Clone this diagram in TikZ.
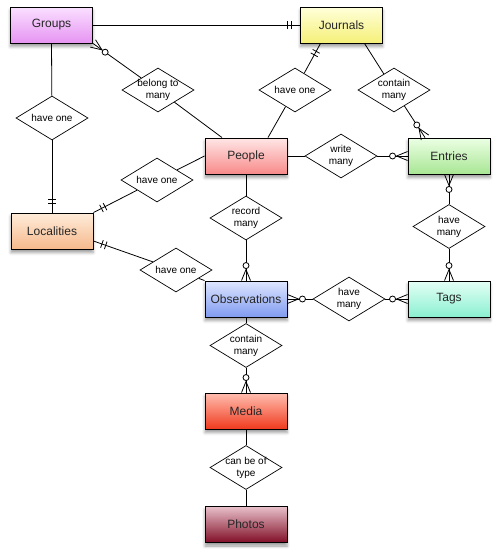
\documentclass[tikz,border=0pt]{standalone}
\usepackage{fontspec}
\setmainfont{Liberation Sans}
\usetikzlibrary{shapes.geometric,calc,shadows.blur}
\newcommand\crowfoot[2]{%
  \coordinate (cfA) at ($(#1)!11pt!(#2)$);
  \draw[conn] (cfA) -- ($(#1)!4.5pt!90:(#2)$);
  \draw[conn] (cfA) -- ($(#1)!4.5pt!-90:(#2)$);
  \draw[conn,fill=white] ($(#1)!15pt!(#2)$) circle[radius=3pt];
}
\newcommand\twobars[2]{%
  \coordinate (tbA) at ($(#1)!9pt!(#2)$);
  \coordinate (tbB) at ($(#1)!13pt!(#2)$);
  \draw[conn] ($(tbA)!4pt!90:(#2)$) -- ($(tbA)!4pt!-90:(#2)$);
  \draw[conn] ($(tbB)!4pt!90:(#2)$) -- ($(tbB)!4pt!-90:(#2)$);
}
\tikzset{
  entity/.style={draw=black, line width=0.9pt, minimum width=82pt, minimum height=36pt,
    inner sep=0pt, font=\fontsize{12}{14}\selectfont, text=black!85,
    blur shadow={shadow xshift=0pt, shadow yshift=-3.5pt, shadow blur radius=3pt}},
  relbox/.style={diamond, draw=black, line width=0.7pt, fill=white, minimum width=72pt,
    minimum height=44pt, inner sep=0pt, label={[reltext]center:#1}},
  reltext/.style={font=\fontsize{10}{12}\selectfont, align=center, inner sep=0pt, text=black},
  conn/.style={draw=black, line width=0.8pt},
}
\begin{document}
\begin{tikzpicture}[x=1pt,y=-1pt]
\useasboundingbox (0,0) rectangle (500,557);
% entities
\node[entity, top color={rgb,255:red,250;green,224;blue,255}, bottom color={rgb,255:red,230;green,148;blue,242}] (grp) at (51.5,25) {Groups};
\node[entity, top color={rgb,255:red,255;green,255;blue,218}, bottom color={rgb,255:red,245;green,240;blue,120}] (jou) at (341.5,25) {Journals};
\node[entity, top color={rgb,255:red,255;green,230;blue,230}, bottom color={rgb,255:red,248;green,138;blue,138}] (ppl) at (246,156) {People};
\node[entity, top color={rgb,255:red,236;green,255;blue,228}, bottom color={rgb,255:red,168;green,230;blue,148}] (ety) at (449,156) {Entries};
\node[entity, top color={rgb,255:red,255;green,236;blue,218}, bottom color={rgb,255:red,245;green,185;blue,140}] (loc) at (52,231) {Localities};
\node[entity, top color={rgb,255:red,222;green,230;blue,255}, bottom color={rgb,255:red,128;green,155;blue,240}] (obs) at (246,299) {Observations};
\node[entity, top color={rgb,255:red,228;green,255;blue,246}, bottom color={rgb,255:red,138;green,240;blue,208}] (tag) at (449,299) {Tags};
\node[entity, top color={rgb,255:red,255;green,190;blue,176}, bottom color={rgb,255:red,240;green,58;blue,30}] (med) at (246,411) {Media};
\node[entity, top color={rgb,255:red,232;green,192;blue,202}, bottom color={rgb,255:red,128;green,14;blue,38}] (pho) at (246,524.5) {Photos};
% relationships
\node[relbox={have one}] (hv1) at (52,118) {};
\node[relbox={belong to\\many}] (bel) at (158,90) {};
\node[relbox={have one}] (hv2) at (295,90) {};
\node[relbox={contain\\many}] (ctn) at (394,90) {};
\node[relbox={write\\many}] (wrt) at (341,156) {};
\node[relbox={have one}] (hv3) at (157,180) {};
\node[relbox={record\\many}] (rec) at (246,218) {};
\node[relbox={have one}] (hv4) at (176,270) {};
\node[relbox={have\\many}] (hm1) at (449,226.5) {};
\node[relbox={have\\many}] (hm2) at (349,299) {};
\node[relbox={contain\\many}] (ctm) at (246,345.5) {};
\node[relbox={can be of\\type}] (cbt) at (246,467.5) {};
% attachment points
\coordinate (pplA) at ([xshift=-24pt]ppl.north);
\coordinate (pplB) at ([xshift=22pt]ppl.north);
\coordinate (jouA) at ([xshift=-21pt]jou.south);
\coordinate (jouB) at ([xshift=23pt]jou.south);
\coordinate (etyA) at ([xshift=-24pt]ety.north);
\coordinate (locA) at ([yshift=-10pt]loc.east);
% connectors
\draw[conn] (grp.east) -- (jou.west);
\twobars{jou.west}{grp.east}
\draw[conn] (grp.south) -- (hv1);
\draw[conn] (hv1) -- (loc.north);
\twobars{loc.north}{hv1}
\draw[conn] (grp.south east) -- (bel);
\draw[conn] (bel) -- (pplA);
\crowfoot{grp.south east}{bel}
\draw[conn] (jouA) -- (hv2);
\draw[conn] (hv2) -- (pplB);
\twobars{jouA}{hv2}
\draw[conn] (jouB) -- (ctn);
\draw[conn] (ctn) -- (etyA);
\crowfoot{etyA}{ctn}
\draw[conn] (ppl.east) -- (wrt);
\draw[conn] (wrt) -- (ety.west);
\crowfoot{ety.west}{wrt}
\draw[conn] (ppl.west) -- (hv3);
\draw[conn] (hv3) -- (loc.north east);
\twobars{loc.north east}{hv3}
\draw[conn] (ppl.south) -- (rec);
\draw[conn] (rec) -- (obs.north);
\crowfoot{obs.north}{rec}
\draw[conn] (locA) -- (hv4);
\draw[conn] (hv4) -- (obs.north west);
\twobars{locA}{hv4}
\draw[conn] (ety.south) -- (hm1);
\draw[conn] (hm1) -- (tag.north);
\crowfoot{ety.south}{hm1}
\crowfoot{tag.north}{hm1}
\draw[conn] (obs.east) -- (hm2);
\draw[conn] (hm2) -- (tag.west);
\crowfoot{obs.east}{hm2}
\crowfoot{tag.west}{hm2}
\draw[conn] (obs.south) -- (ctm);
\draw[conn] (ctm) -- (med.north);
\crowfoot{med.north}{ctm}
\draw[conn] (med.south) -- (cbt);
\draw[conn] (cbt) -- (pho.north);
\end{tikzpicture}
\end{document}
